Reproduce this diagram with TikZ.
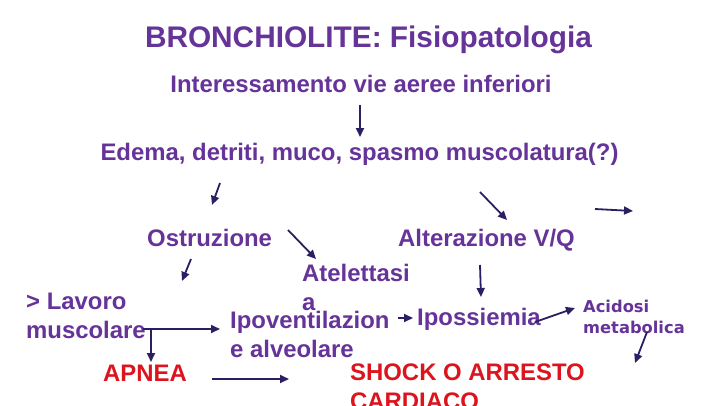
\documentclass[tikz,border=0pt]{standalone}
\usepackage{fontspec}
\setmainfont{Liberation Sans}
\newfontfamily\comicfont{DejaVu Sans}
\usetikzlibrary{arrows.meta}
\definecolor{bpurple}{RGB}{102, 51, 153}
\definecolor{barrow}{RGB}{45, 30, 100}
\definecolor{bred}{RGB}{220, 20, 30}
\tikzset{
    txtnode/.style={inner sep=0pt, anchor=base west, align=left, text=bpurple, font=\fontsize{23.9}{28.5}\selectfont\bfseries},
    titlenode/.style={txtnode, anchor=base, font=\fontsize{29.8}{34}\selectfont\bfseries},
    centernode/.style={txtnode, anchor=base},
    rednode/.style={txtnode, text=bred},
    smallnode/.style={txtnode, font=\fontsize{16.3}{21}\selectfont\comicfont\bfseries},
    flow/.style={-{Triangle[length=9pt,width=8pt]}, line width=1.8pt, draw=barrow}
}
\begin{document}
\begin{tikzpicture}[x=1pt, y=-1pt]
    \useasboundingbox (0,0) rectangle (720,405);
    \clip (0,0) rectangle (720,405);
    \fill[white] (0,0) rectangle (720,405);

    % texts (two-line nodes sit on their last baseline)
    \node[titlenode] (title) at (368.5,47) {BRONCHIOLITE: Fisiopatologia};
    \node[centernode] (inter) at (361,92) {Interessamento vie aeree inferiori};
    \node[centernode] (edema) at (359.5,160) {Edema, detriti, muco, spasmo muscolatura(?)};
    \node[txtnode] (ostr) at (147,246) {Ostruzione};
    \node[txtnode] (alter) at (398,246) {Alterazione V/Q};
    \node[txtnode] (atel) at (302,310) {Atelettasi\\a};
    \node[txtnode] (lavoro) at (26,338) {> Lavoro\\muscolare};
    \node[txtnode] (ipov) at (230,357) {Ipoventilazion\\e alveolare};
    \node[txtnode] (iposs) at (417,325) {Ipossiemia};
    \node[smallnode] (acid) at (583,333) {Acidosi\\metabolica};
    \node[rednode] (apnea) at (103,381) {APNEA};
    \node[rednode] (shock) at (350,409) {SHOCK O ARRESTO\\CARDIACO};

    % arrow ends
    \coordinate (a1s) at (360,105);  \coordinate (a1e) at (360,137);
    \coordinate (a2s) at (220,183);  \coordinate (a2e) at (212,205);
    \coordinate (a3s) at (480,192);  \coordinate (a3e) at (507,220);
    \coordinate (a4s) at (595,209);  \coordinate (a4e) at (633,211);
    \coordinate (a5s) at (288,230);  \coordinate (a5e) at (316,259);
    \coordinate (a6s) at (191,259);  \coordinate (a6e) at (182,281);
    \coordinate (a7s) at (143,329);  \coordinate (a7e) at (220,329);
    \coordinate (a7b) at (151,329);  \coordinate (a7d) at (151,362);
    \coordinate (a8s) at (212,379);  \coordinate (a8e) at (289,379);
    \coordinate (a9s) at (480,265);  \coordinate (a9e) at (481,297);
    \coordinate (a10s) at (398,318); \coordinate (a10e) at (413,318);
    \coordinate (a11s) at (535,322); \coordinate (a11e) at (575,308);
    \coordinate (a12s) at (647,332); \coordinate (a12e) at (635,363);

    % arrows
    \draw[flow] (a1s) -- (a1e);
    \draw[flow] (a2s) -- (a2e);
    \draw[flow] (a3s) -- (a3e);
    \draw[flow] (a4s) -- (a4e);
    \draw[flow] (a5s) -- (a5e);
    \draw[flow] (a6s) -- (a6e);
    \draw[flow] (a7s) -- (a7e);
    \draw[flow] (a7b) -- (a7d);
    \draw[flow] (a8s) -- (a8e);
    \draw[flow] (a9s) -- (a9e);
    \draw[flow] (a10s) -- (a10e);
    \draw[flow] (a11s) -- (a11e);
    \draw[flow] (a12s) -- (a12e);
\end{tikzpicture}
\end{document}
